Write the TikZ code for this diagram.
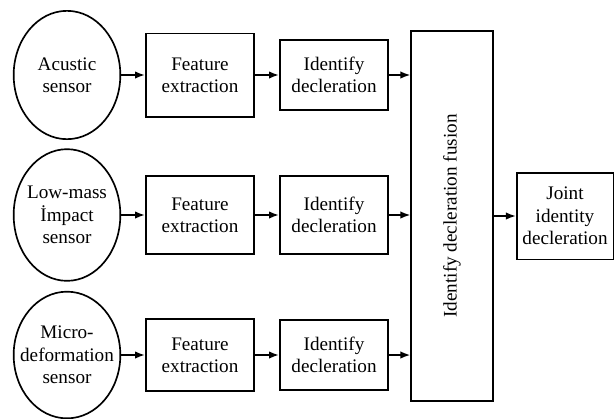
\documentclass[tikz,border=0pt]{standalone}
\usepackage{fontspec}
\setmainfont{Liberation Serif}
\usetikzlibrary{arrows.meta,shapes.geometric}

\tikzset{
  sensor/.style={draw,ellipse,line width=1pt,minimum width=64pt,minimum height=77pt,inner sep=0pt,
    label={[align=center]center:#1}},
  block/.style={draw,rectangle,line width=1pt,minimum width=65pt,inner sep=2pt,align=center},
}

\begin{document}
\begin{tikzpicture}[x=0.6pt,y=-0.6pt,->,>={Latex[length=6pt,width=4.5pt]},line width=1pt,
  every node/.style={font=\rmfamily\fontsize{11.5}{13.4}\selectfont}]
  \useasboundingbox (0,0) rectangle (616,418);

  % sensors
  \node[sensor={Acustic\\sensor}] (S1) at (67,75) {};
  \node[sensor={Low-mass\\İmpact\\sensor},minimum height=79pt] (S2) at (67,215) {};
  \node[sensor={Micro-\\deformation\\sensor},minimum height=76pt] (S3) at (67,355) {};

  % feature extraction
  \node[block,minimum height=50pt] (F1) at (200,75)  {Feature\\extraction};
  \node[block,minimum height=47pt] (F2) at (200,215) {Feature\\extraction};
  \node[block,minimum height=43pt] (F3) at (200,355) {Feature\\extraction};

  % identify decleration
  \node[block,minimum height=42pt] (I1) at (334,75)  {Identify\\decleration};
  \node[block,minimum height=47pt] (I2) at (334,215) {Identify\\decleration};
  \node[block,minimum height=42pt] (I3) at (334,355) {Identify\\decleration};

  % fusion and output
  \node[block,minimum width=49pt,minimum height=222pt] (FUS) at (452,216) {};
  \node[rotate=90] at (FUS) {Identify decleration fusion};
  \node[block,minimum width=58pt,minimum height=52pt] (J) at (565,216) {Joint\\identity\\decleration};

  \path (S1) edge (F1)
        (S2) edge (F2)
        (S3) edge (F3)
        (F1) edge (I1)
        (F2) edge (I2)
        (F3) edge (I3)
        (I1) edge (I1 -| FUS.west)
        (I2) edge (I2 -| FUS.west)
        (I3) edge (I3 -| FUS.west)
        (FUS) edge (J);
\end{tikzpicture}
\end{document}
